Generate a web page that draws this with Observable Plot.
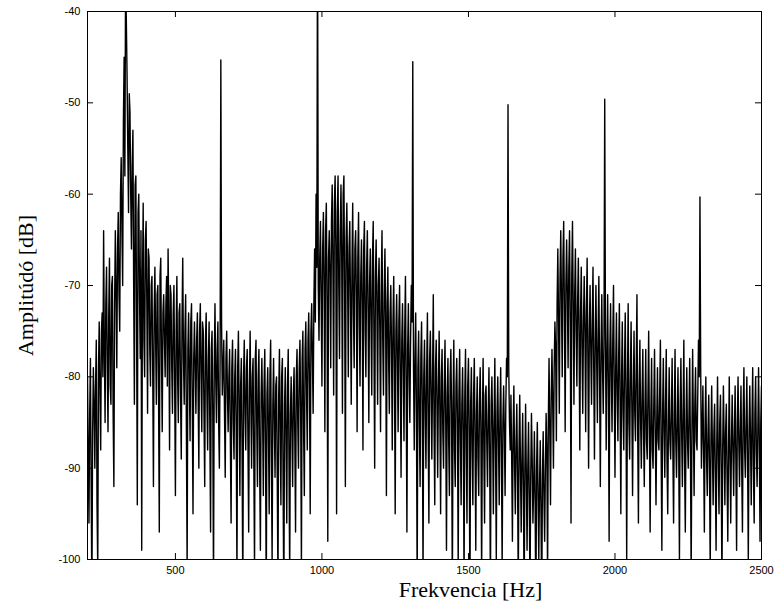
<!DOCTYPE html>
<html>
<head>
<meta charset="utf-8">
<script src="https://cdn.jsdelivr.net/npm/d3@7"></script>
<script src="https://cdn.jsdelivr.net/npm/@observablehq/plot@0.6"></script>
<style>
  html, body { margin: 0; padding: 0; background: #fff; }
  #chart { width: 779px; height: 608px; }
</style>
</head>
<body>
<div id="chart"></div>
<script>
// Frequency grid of the sampled spectrum (Hz)
const freqStart = 200;
const freqStep = 5;      // main samples at 200, 205, ... 2500
const midOffset = 2.5;   // in-between samples at 202.5, 207.5, ... 2497.5

// Amplitude [dB] at 200, 205, ..., 2500 Hz
const amplitude = [
  // 200-295
  -80,-96,-78,-104,-79,-90,-76,-101,-74,-88,-73,-64,-85,-68,-86,-67,-83,-69,-92,-64,
  // 300-395
  -79,-62,-75,-56,-70,-45,-36,-47,-62,-51,-66,-53,-83,-58,-94,-60,-78,-99,-61,-80,
  // 400-495
  -63,-84,-67,-81,-69,-92,-68,-83,-70,-97,-67,-86,-71,-80,-69,-66,-88,-71,-84,-70,
  // 500-595
  -93,-69,-85,-72,-89,-67,-83,-71,-101,-73,-87,-72,-95,-74,-84,-73,-90,-72,-86,-75,
  // 600-695
  -92,-73,-88,-74,-97,-75,-103,-72,-85,-74,-90,-45.3,-82,-76,-91,-75,-86,-77,-96,-76,
  // 700-795
  -89,-77,-102,-75,-93,-78,-104,-76,-88,-77,-97,-75,-90,-78,-101,-76,-92,-77,-99,-78,
  // 800-895
  -93,-77,-104,-79,-95,-76,-100,-78,-91,-80,-103,-77,-94,-78,-105,-79,-96,-77,-102,-80,
  // 900-995
  -92,-79,-97,-77,-90,-76,-101,-75,-93,-74,-88,-73,-95,-72,-84,-66,-60,-30,-76,-63,
  // 1000-1095
  -81,-62,-86,-61,-98,-64,-79,-59,-82,-58,-95,-58,-78,-59,-84,-58,-92,-61,-80,-63,
  // 1100-1195
  -83,-61,-79,-64,-86,-62,-81,-65,-88,-63,-80,-64,-85,-66,-82,-63,-90,-65,-83,-67,
  // 1200-1295
  -86,-64,-82,-66,-93,-68,-84,-70,-88,-69,-95,-71,-86,-70,-91,-72,-87,-69,-97,-72,
  // 1300-1395
  -85,-70,-45.5,-88,-73,-103,-75,-92,-74,-102,-76,-90,-73,-96,-75,-89,-71,-94,-76,-91,
  // 1400-1495
  -75,-95,-77,-90,-76,-99,-78,-93,-77,-104,-76,-92,-78,-101,-77,-94,-79,-103,-77,-96,
  // 1500-1595
  -78,-105,-79,-94,-78,-99,-80,-93,-79,-102,-78,-96,-81,-92,-79,-104,-80,-95,-78,-100,
  // 1600-1695
  -80,-94,-79,-101,-81,-93,-78,-50.2,-85,-82,-98,-81,-95,-83,-103,-82,-97,-84,-105,-83,
  // 1700-1795
  -99,-85,-104,-84,-96,-86,-106,-85,-100,-87,-105,-86,-98,-84,-102,-78,-94,-77,-90,-74,
  // 1800-1895
  -87,-66,-84,-64,-80,-63,-86,-65,-79,-64,-96,-63,-83,-66,-81,-67,-88,-68,-84,-69,
  // 1900-1995
  -86,-67,-90,-70,-83,-68,-89,-70,-85,-69,-92,-71,-84,-49.6,-88,-71,-98,-72,-86,-70,
  // 2000-2095
  -91,-73,-87,-72,-95,-74,-88,-73,-100,-72,-89,-74,-93,-75,-87,-71,-96,-76,-90,-77,
  // 2100-2195
  -92,-77,-89,-75,-97,-78,-90,-77,-94,-79,-88,-76,-99,-78,-91,-77,-95,-79,-89,-78,
  // 2200-2295
  -96,-77,-91,-79,-100,-78,-92,-76,-97,-79,-90,-78,-102,-77,-93,-79,-88,-76,-60.3,-90,
  // 2300-2395
  -81,-97,-80,-93,-82,-101,-81,-94,-83,-99,-80,-95,-82,-103,-81,-94,-83,-98,-80,-96,
  // 2400-2500
  -82,-93,-81,-99,-80,-92,-81,-97,-79,-91,-80,-100,-81,-94,-79,-96,-80,-92,-79,-98,-81
];

// Amplitude [dB] at 202.5, 207.5, ..., 2497.5 Hz
const amplitudeMid = [
  // 202.5-297.5
  -88,-84,-92,-86,-83,-81,-94,-79,-82,-75,-80,-77,-72,-79,-73,-81,-70,-84,-72,-71,
  // 302.5-397.5
  -66,-71,-60,-64,-52,-58,-41,-55,-49,-60,-57,-70,-59,-74,-62,-71,-64,-70,-76,-65,
  // 402.5-497.5
  -72,-66,-77,-70,-79,-73,-76,-71,-82,-69,-78,-73,-76,-72,-81,-74,-70,-79,-73,-81,
  // 502.5-597.5
  -75,-80,-73,-82,-74,-78,-75,-86,-77,-80,-74,-83,-78,-79,-76,-82,-75,-80,-74,-84,
  // 602.5-697.5
  -76,-82,-78,-86,-77,-84,-79,-80,-77,-85,-78,-74,-79,-84,-78,-82,-80,-87,-79,-85,
  // 702.5-797.5
  -80,-86,-79,-83,-81,-88,-80,-84,-79,-87,-81,-83,-80,-89,-78,-85,-80,-90,-82,-84,
  // 802.5-897.5
  -81,-88,-82,-86,-80,-89,-83,-85,-81,-91,-82,-86,-80,-92,-83,-87,-81,-89,-84,-86,
  // 902.5-997.5
  -82,-87,-80,-85,-79,-84,-78,-86,-77,-82,-76,-81,-75,-78,-72,-74,-68,-70,-67,-72,
  // 1002.5-1097.5
  -66,-70,-64,-72,-67,-69,-63,-68,-61,-66,-62,-70,-64,-67,-60,-71,-65,-69,-66,-72,
  // 1102.5-1197.5
  -68,-73,-66,-71,-67,-74,-69,-72,-66,-75,-68,-73,-70,-74,-67,-76,-69,-72,-70,-75,
  // 1202.5-1297.5
  -70,-76,-71,-74,-72,-78,-73,-77,-74,-79,-75,-78,-74,-80,-76,-79,-75,-81,-77,-80,
  // 1302.5-1397.5
  -76,-74,-79,-78,-84,-79,-85,-78,-83,-80,-84,-79,-86,-78,-82,-80,-85,-79,-83,-81,
  // 1402.5-1497.5
  -84,-80,-86,-81,-85,-82,-87,-80,-84,-83,-88,-81,-85,-82,-87,-83,-86,-82,-88,-81,
  // 1502.5-1597.5
  -86,-83,-88,-82,-87,-84,-89,-83,-86,-85,-88,-82,-87,-84,-89,-83,-86,-85,-88,-84,
  // 1602.5-1697.5
  -87,-84,-88,-85,-86,-83,-80,-79,-88,-89,-86,-90,-87,-91,-88,-90,-89,-92,-90,-91,
  // 1702.5-1797.5
  -90,-93,-91,-89,-92,-94,-90,-93,-92,-95,-91,-93,-90,-88,-85,-86,-82,-83,-79,-77,
  // 1802.5-1897.5
  -72,-74,-69,-72,-67,-73,-70,-71,-68,-74,-69,-72,-71,-75,-72,-76,-73,-77,-74,-75,
  // 1902.5-1997.5
  -73,-78,-75,-77,-74,-79,-76,-78,-75,-80,-77,-79,-76,-75,-78,-81,-77,-80,-76,-81,
  // 2002.5-2097.5
  -79,-82,-78,-83,-80,-84,-79,-82,-81,-85,-80,-83,-82,-84,-79,-86,-81,-85,-82,-86,
  // 2102.5-2197.5
  -83,-87,-82,-86,-84,-88,-83,-86,-85,-87,-82,-88,-84,-86,-83,-89,-85,-87,-84,-88,
  // 2202.5-2297.5
  -84,-87,-85,-88,-83,-86,-84,-89,-85,-87,-84,-88,-86,-85,-83,-87,-82,-80,-79,-86,
  // 2302.5-2397.5
  -88,-85,-89,-86,-90,-87,-88,-86,-91,-87,-89,-85,-90,-88,-87,-86,-91,-88,-89,-87,
  // 2402.5-2497.5
  -88,-86,-89,-85,-87,-86,-90,-84,-88,-85,-89,-86,-87,-85,-90,-84,-88,-86,-87,-85
];

const xDomain = [200, 2500];
const yDomain = [-100, -40];
const xTicks = [500, 1000, 1500, 2000, 2500];
const yTicks = [-100, -90, -80, -70, -60, -50, -40];
const xLabel = "Frekvencia [Hz]";
const yLabel = "Amplitúdó [dB]";

// Interleave the two sample sets into one ordered spectrum
const spectrum = [];
amplitude.forEach((a, i) => {
  spectrum.push({ f: freqStart + i * freqStep, a });
  if (i < amplitudeMid.length) spectrum.push({ f: freqStart + i * freqStep + midOffset, a: amplitudeMid[i] });
});

const W = 779, H = 608;
const mL = 87, mR = 18, mT = 11, mB = 49;
const tickPx = 6;
const plotW = W - mL - mR, plotH = H - mT - mB;
const tickX = (xDomain[1] - xDomain[0]) * tickPx / plotW;
const tickY = (yDomain[1] - yDomain[0]) * tickPx / plotH;

const chart = Plot.plot({
  width: W,
  height: H,
  marginLeft: mL,
  marginRight: mR,
  marginTop: mT,
  marginBottom: mB,
  style: { background: "#fff", color: "#000" },
  x: { domain: xDomain, label: null },
  y: { domain: yDomain, label: null },
  marks: [
    Plot.line(spectrum, { x: "f", y: "a", stroke: "#000", strokeWidth: 1.4, clip: true }),
    Plot.frame({ stroke: "#000", strokeWidth: 1 }),
    // inward tick marks (MATLAB style) on all four sides
    Plot.ruleX(xTicks, { x: d => d, y1: yDomain[0], y2: yDomain[0] + tickY, stroke: "#000" }),
    Plot.ruleX(xTicks, { x: d => d, y1: yDomain[1], y2: yDomain[1] - tickY, stroke: "#000" }),
    Plot.ruleY(yTicks, { y: d => d, x1: xDomain[0], x2: xDomain[0] + tickX, stroke: "#000" }),
    Plot.ruleY(yTicks, { y: d => d, x1: xDomain[1], x2: xDomain[1] - tickX, stroke: "#000" }),
    Plot.axisX(xTicks, { tickSize: 0, tickPadding: 7, fontSize: 11, fontFamily: "Liberation Sans, Arial, sans-serif", label: null, tickFormat: d => String(d) }),
    Plot.axisY(yTicks, { tickSize: 0, tickPadding: 7, fontSize: 11, fontFamily: "Liberation Sans, Arial, sans-serif", label: null, tickFormat: d => String(d) }),
    Plot.text([xLabel], { frameAnchor: "bottom", dx: 46, dy: 37, textAnchor: "middle", fontSize: 22, fontFamily: "Liberation Serif, serif", fill: "#000" }),
    Plot.text([yLabel], { frameAnchor: "left", dx: -62, rotate: -90, textAnchor: "middle", fontSize: 22, fontFamily: "Liberation Serif, serif", fill: "#000" })
  ]
});
document.getElementById("chart").appendChild(chart);
</script>
</body>
</html>
